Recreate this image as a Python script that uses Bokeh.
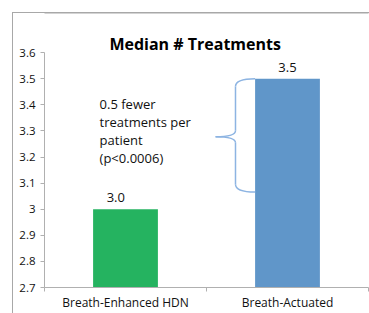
from bokeh.plotting import figure
from bokeh.models import Range1d, FixedTicker, BoxAnnotation
from bokeh.core.properties import value
from bokeh.embed import file_html
from bokeh.resources import INLINE

# ---- data ----
categories = ["Breath-Enhanced HDN", "Breath-Actuated"]
medians = [3.0, 3.5]
value_labels = ["3.0", "3.5"]
bar_colors = ["#25b360", "#6096c9"]
y_ticks = [2.7, 2.8, 2.9, 3.0, 3.1, 3.2, 3.3, 3.4, 3.5, 3.6]
y_tick_labels = ["2.7", "2.8", "2.9", "3", "3.1", "3.2", "3.3", "3.4", "3.5", "3.6"]
title_text = "Median # Treatments"
note_lines = ["0.5 fewer", "treatments per", "patient", "(p<0.0006)"]
brace_bottom = 3.066
brace_mid = 3.278

FONT = "Open Sans"
Y_MIN, Y_AX_MAX, Y_MAX = 2.7, 3.6, 3.8

p = figure(width=369, height=313, output_backend="svg", toolbar_location=None,
           x_range=Range1d(0, 2), y_range=Range1d(Y_MIN, Y_MAX),
           min_border_left=44, min_border_right=1, min_border_top=0, min_border_bottom=25)
p.outline_line_color = None
p.background_fill_color = None
p.border_fill_color = None
p.xgrid.visible = False
p.ygrid.visible = False

# outer chart-area border: left and top edges drawn as the page element's background
border_color = "#a8a8a8"
p.styles = {
    "background-color": "white",
    "background-image": f"linear-gradient({border_color}, {border_color}), linear-gradient({border_color}, {border_color})",
    "background-size": "1px 400px, 400px 1px",
    "background-position": "12px 12px, 12px 12px",
    "background-repeat": "no-repeat",
}
p.add_layout(BoxAnnotation(left=12, right=420, top=12, bottom=13,
                           left_units="canvas", right_units="canvas",
                           top_units="canvas", bottom_units="canvas",
                           fill_color=border_color, fill_alpha=1, line_color=None))

centers = [i + 0.5 for i in range(len(categories))]

p.vbar(x=centers, top=medians, bottom=Y_MIN, width=0.4, fill_color=bar_colors, line_color=None)

label_dx = [-0.06, 0.0]
p.text(x=[c + d for c, d in zip(centers, label_dx)], y=[m + 0.045 for m in medians], text=value_labels,
       text_font=value(FONT), text_font_size="13px", text_align="center", text_baseline="middle",
       text_color="#111111")

p.text(x=[0.93], y=[Y_AX_MAX + 0.035], text=[title_text], text_font=value(FONT),
       text_font_size="16px", text_font_style="bold", text_align="center", text_baseline="middle",
       text_color="#000000")

note_y0 = 3.404
note_step = 0.0695
p.text(x=[0.34] * len(note_lines), y=[note_y0 - i * note_step for i in range(len(note_lines))],
       text=note_lines, text_font=value(FONT), text_font_size="13px", text_align="left",
       text_baseline="middle", text_color="#111111")

bx_end = centers[1] - 0.2
bx_v = 1.179
bx_tip = 1.056
top = medians[1]
c = 0.03
brace_color = "#8db4e2"
p.quadratic(x0=[bx_end, bx_v, bx_tip, bx_v], y0=[top, brace_mid + 0.023, brace_mid, brace_bottom + c],
            x1=[bx_v, bx_tip, bx_v, bx_end], y1=[top - c, brace_mid, brace_mid - 0.023, brace_bottom],
            cx=[bx_v, bx_v, bx_v, bx_v], cy=[top, brace_mid, brace_mid, brace_bottom],
            line_color=brace_color, line_width=1.5)
p.segment(x0=[bx_v, bx_v], y0=[top - c, brace_mid - 0.023], x1=[bx_v, bx_v], y1=[brace_mid + 0.023, brace_bottom + c],
          line_color=brace_color, line_width=1.5)

ya = p.yaxis[0]
ya.ticker = FixedTicker(ticks=y_ticks)
ya.major_label_overrides = {t: l for t, l in zip(y_ticks, y_tick_labels)}
ya.bounds = (Y_MIN, Y_AX_MAX)
ya.axis_line_color = "#b0b0b0"
ya.major_tick_line_color = "#b0b0b0"
ya.major_tick_in = 0
ya.major_tick_out = 4
ya.minor_tick_line_color = None
ya.major_label_standoff = 5
ya.major_label_text_font = FONT
ya.major_label_text_font_size = "11.5px"
ya.major_label_text_color = "#111111"

xa = p.xaxis[0]
xa.ticker = FixedTicker(ticks=centers, minor_ticks=[0, 1, 2])
xa.major_label_overrides = {c_: l for c_, l in zip(centers, categories)}
xa.axis_line_color = "#b0b0b0"
xa.major_tick_line_color = None
xa.major_tick_in = 0
xa.major_tick_out = 0
xa.minor_tick_line_color = "#b0b0b0"
xa.minor_tick_in = 0
xa.minor_tick_out = 4
xa.major_label_standoff = 2
xa.major_label_text_font = FONT
xa.major_label_text_font_size = "12px"
xa.major_label_text_color = "#111111"

open("out.html", "w").write(file_html(p, INLINE))
